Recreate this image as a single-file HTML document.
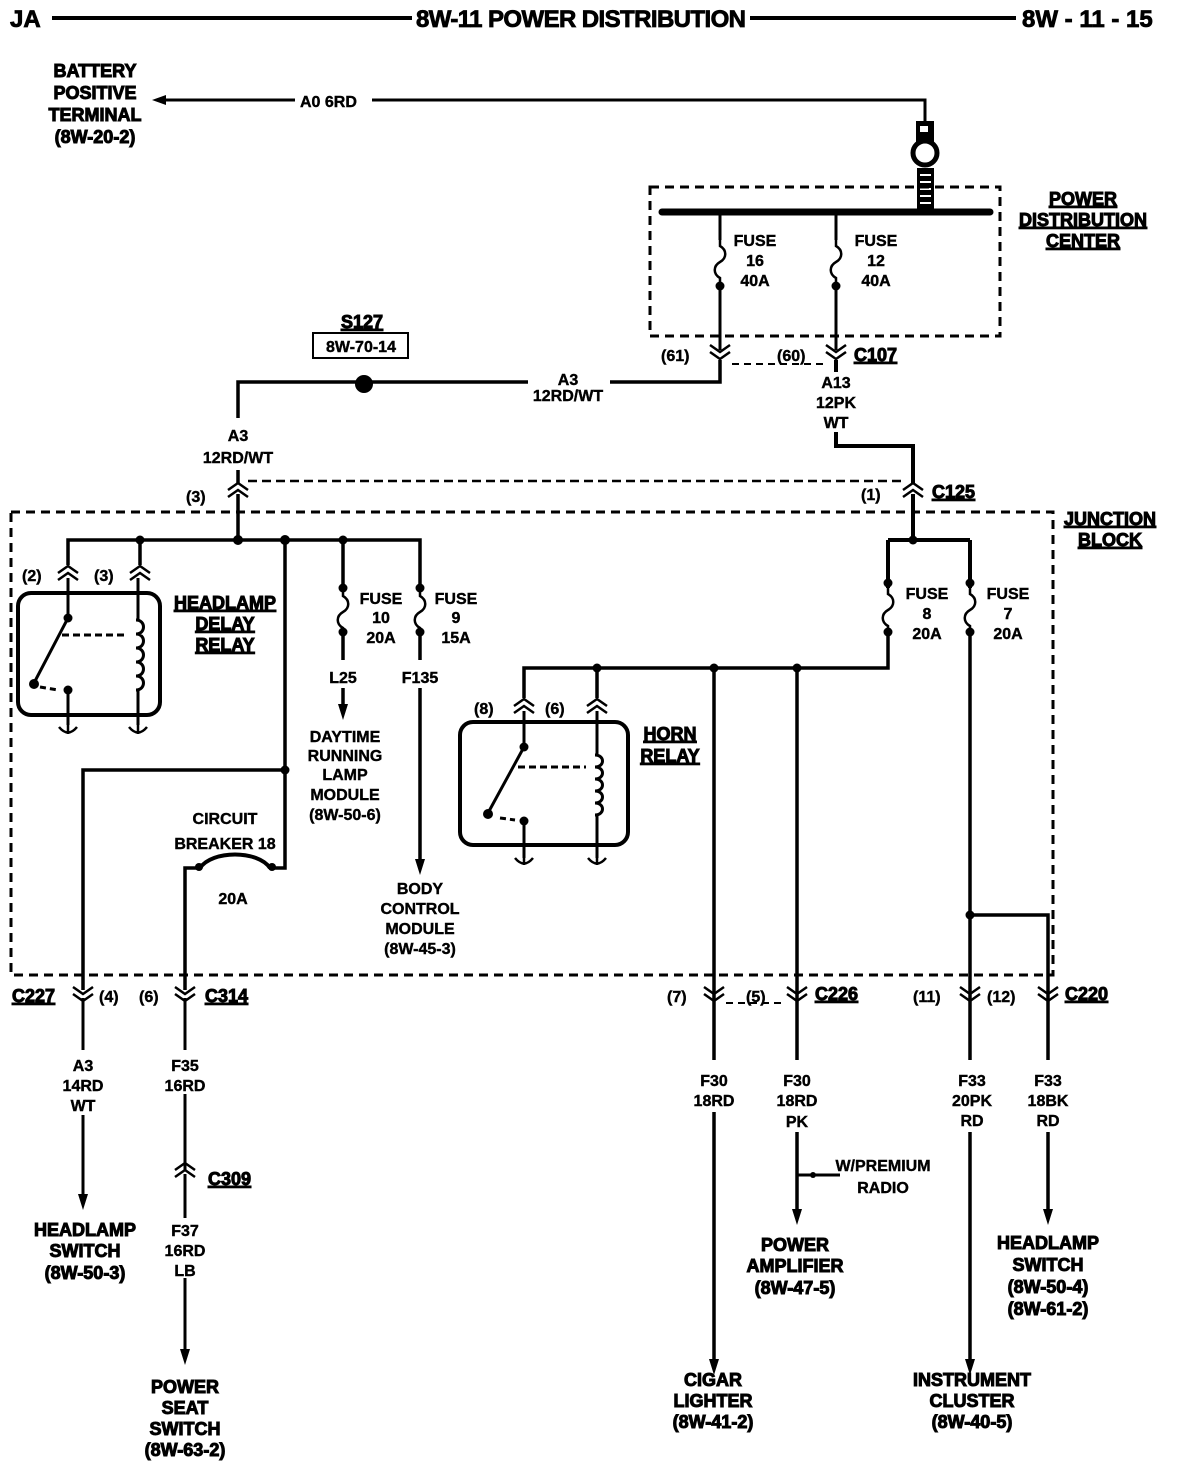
<!DOCTYPE html>
<html><head><meta charset="utf-8"><style>
html,body{margin:0;padding:0;background:#fff}
svg{display:block}
text{font-family:"Liberation Sans",sans-serif;font-weight:bold;fill:#000;stroke:#000}
.s{font-size:16px;stroke-width:0.4px}
.b{font-size:18px;stroke-width:1px}
.h{font-size:24px;stroke-width:0.8px}
.u{text-decoration:underline}
</style></head><body>
<svg width="1184" height="1464" viewBox="0 0 1184 1464" xmlns="http://www.w3.org/2000/svg">
<defs>
<g id="cd" fill="none" stroke="#000" stroke-width="2.5"><path d="M-10,-7 L0,0 L10,-7 M-10,0 L0,7 L10,0"/></g>
<g id="cu" fill="none" stroke="#000" stroke-width="2.5"><path d="M-10,7 L0,0 L10,7 M-10,0 L0,-7 L10,0"/></g>
<g id="gnd" fill="none" stroke="#000" stroke-width="2.5"><path d="M-9,-5 Q0,6 9,-5 M0,-14 L0,2"/></g>
<g id="arr"><path d="M-5,-16 L5,-16 L0,0 Z" fill="#000"/></g>
<g id="fuse" fill="none" stroke="#000" stroke-width="2.5"><path d="M0,0 L0,6 C7,10 7,18 0,22 C-7,26 -7,34 0,38 L0,44"/></g>
</defs>

<text x="10" y="27" class="h">JA</text>
<line x1="52" y1="18" x2="412" y2="18" stroke="#000" stroke-width="4"/>
<text x="416" y="27" class="h" textLength="330">8W-11  POWER DISTRIBUTION</text>
<line x1="750" y1="18" x2="1016" y2="18" stroke="#000" stroke-width="4"/>
<text x="1022" y="27" class="h">8W - 11 - 15</text>

<g stroke="#000" fill="none" stroke-width="3">
<path d="M160,100 L295,100 M372,100 L925,100 L925,121"/>
</g>
<path d="M152,100 L166,95 L166,105 Z" fill="#000"/>
<g text-anchor="middle">
<text x="95" y="77" class="b">BATTERY</text>
<text x="95" y="99" class="b">POSITIVE</text>
<text x="95" y="121" class="b">TERMINAL</text>
<text x="95" y="143" class="b">(8W-20-2)</text>
</g>
<text x="300" y="107" class="s">A0  6RD</text>

<rect x="916" y="121" width="18" height="22" fill="#000"/>
<rect x="920" y="126" width="8" height="6" fill="#fff"/>
<circle cx="925" cy="153" r="12" fill="none" stroke="#000" stroke-width="5"/>
<rect x="917" y="168" width="17" height="42" fill="#000"/>
<g stroke="#fff" stroke-width="2"><line x1="920" y1="175" x2="931" y2="175"/><line x1="920" y1="182" x2="931" y2="182"/><line x1="920" y1="189" x2="931" y2="189"/><line x1="920" y1="196" x2="931" y2="196"/><line x1="920" y1="203" x2="931" y2="203"/></g>

<rect x="650" y="187" width="350" height="149" fill="none" stroke="#000" stroke-width="3" stroke-dasharray="9,6"/>
<line x1="662" y1="212" x2="990" y2="212" stroke="#000" stroke-width="7" stroke-linecap="round"/>
<g text-anchor="middle">
<text x="1083" y="205" class="b u">POWER</text>
<text x="1083" y="226" class="b u">DISTRIBUTION</text>
<text x="1083" y="247" class="b u">CENTER</text>
</g>
<g stroke="#000" stroke-width="3" fill="none">
<line x1="720" y1="212" x2="720" y2="240"/>
<line x1="836" y1="212" x2="836" y2="240"/>
<line x1="720" y1="284" x2="720" y2="350"/>
<line x1="836" y1="284" x2="836" y2="350"/>
</g>
<use href="#fuse" x="720" y="240"/><use href="#fuse" x="836" y="240"/>
<circle cx="720" cy="286" r="4.5"/><circle cx="836" cy="286" r="4.5"/>
<g text-anchor="middle">
<text x="755" y="246" class="s">FUSE</text><text x="755" y="266" class="s">16</text><text x="755" y="286" class="s">40A</text>
<text x="876" y="246" class="s">FUSE</text><text x="876" y="266" class="s">12</text><text x="876" y="286" class="s">40A</text>
</g>
<use href="#cd" x="720" y="352"/><use href="#cd" x="836" y="352"/>
<line x1="732" y1="364" x2="824" y2="364" stroke="#000" stroke-width="2" stroke-dasharray="7,5"/>
<text x="661" y="361" class="s">(61)</text>
<text x="777" y="361" class="s">(60)</text>
<text x="854" y="361" class="b u">C107</text>

<g stroke="#000" stroke-width="3.5" fill="none">
<path d="M720,360 L720,382 L610,382 M528,382 L238,382 L238,418 M238,470 L238,484"/>
<path d="M836,360 L836,372 M836,432 L836,446 L913,446 L913,484" stroke-width="4"/>
</g>
<circle cx="364" cy="384" r="9"/>
<text x="362" y="328" class="b u" text-anchor="middle">S127</text>
<rect x="313" y="333" width="95" height="25" fill="none" stroke="#000" stroke-width="2"/>
<text x="361" y="352" class="s" text-anchor="middle">8W-70-14</text>
<g text-anchor="middle">
<text x="568" y="385" class="s">A3</text><text x="568" y="401" class="s">12RD/WT</text>
<text x="238" y="441" class="s">A3</text><text x="238" y="463" class="s">12RD/WT</text>
<text x="836" y="388" class="s">A13</text><text x="836" y="408" class="s">12PK</text><text x="836" y="428" class="s">WT</text>
</g>
<use href="#cu" x="238" y="490"/><use href="#cu" x="913" y="490"/>
<line x1="248" y1="481" x2="903" y2="481" stroke="#000" stroke-width="2.5" stroke-dasharray="9,5"/>
<text x="186" y="502" class="s">(3)</text>
<text x="861" y="500" class="s">(1)</text>
<text x="932" y="498" class="b u">C125</text>

<rect x="11" y="512" width="1042" height="463" fill="none" stroke="#000" stroke-width="3" stroke-dasharray="9,6"/>
<text x="1110" y="525" class="b u" text-anchor="middle">JUNCTION</text>
<text x="1110" y="546" class="b u" text-anchor="middle">BLOCK</text>

<g stroke="#000" stroke-width="3.5" fill="none">
<path d="M238,494 L238,540 M68,565 L68,540 L420,540 L420,588 M140,540 L140,565 M343,540 L343,588"/>
<path d="M343,632 L343,660 M343,688 L343,705 M420,632 L420,660 M420,688 L420,860"/>
<path d="M285,540 L285,868 L270,868 M200,868 L185,868 L185,990"/>
<path d="M270,868 C258,850 212,850 200,868" stroke-width="4"/>
<path d="M285,770 L83,770 L83,990"/>
<path d="M913,494 L913,540 M888,540 L970,540 M888,540 L888,588 M970,540 L970,588" stroke-width="4"/>
<path d="M888,632 L888,668 L524,668 L524,698 M597,668 L597,698"/>
<path d="M714,668 L714,1060 M714,1112 L714,1360 M797,668 L797,1060 M797,1132 L797,1210 M970,632 L970,1060 M970,1132 L970,1360 M970,915 L1048,915 L1048,1060 M1048,1132 L1048,1210"/>
</g>
<g>
<circle cx="140" cy="540" r="4.5"/><circle cx="238" cy="540" r="5"/><circle cx="285" cy="540" r="5"/><circle cx="343" cy="540" r="4.5"/><circle cx="285" cy="770" r="4.5"/>
<circle cx="913" cy="540" r="4.5"/><circle cx="597" cy="668" r="4.5"/><circle cx="714" cy="668" r="4.5"/><circle cx="797" cy="668" r="4.5"/><circle cx="970" cy="915" r="4.5"/>
<circle cx="343" cy="588" r="4.5"/><circle cx="343" cy="632" r="4.5"/><circle cx="420" cy="588" r="4.5"/><circle cx="420" cy="632" r="4.5"/>
<circle cx="888" cy="583" r="4.5"/><circle cx="888" cy="632" r="4.5"/><circle cx="970" cy="583" r="4.5"/><circle cx="970" cy="632" r="4.5"/>
<circle cx="272" cy="867" r="4"/><circle cx="199" cy="867" r="4"/>
</g>
<use href="#fuse" x="343" y="590"/>
<use href="#fuse" x="420" y="590"/>
<use href="#fuse" x="888" y="588"/>
<use href="#fuse" x="970" y="588"/>

<text x="225" y="824" class="s" text-anchor="middle">CIRCUIT</text>
<text x="225" y="849" class="s" text-anchor="middle">BREAKER 18</text>
<text x="233" y="904" class="s" text-anchor="middle">20A</text>

<g text-anchor="middle">
<text x="381" y="604" class="s">FUSE</text><text x="381" y="623" class="s">10</text><text x="381" y="643" class="s">20A</text>
<text x="456" y="604" class="s">FUSE</text><text x="456" y="623" class="s">9</text><text x="456" y="643" class="s">15A</text>
<text x="343" y="683" class="s">L25</text><text x="420" y="683" class="s">F135</text>
<text x="345" y="742" class="s">DAYTIME</text><text x="345" y="761" class="s">RUNNING</text><text x="345" y="780" class="s">LAMP</text><text x="345" y="800" class="s">MODULE</text><text x="345" y="820" class="s">(8W-50-6)</text>
<text x="420" y="894" class="s">BODY</text><text x="420" y="914" class="s">CONTROL</text><text x="420" y="934" class="s">MODULE</text><text x="420" y="954" class="s">(8W-45-3)</text>
<text x="927" y="599" class="s">FUSE</text><text x="927" y="619" class="s">8</text><text x="927" y="639" class="s">20A</text>
<text x="1008" y="599" class="s">FUSE</text><text x="1008" y="619" class="s">7</text><text x="1008" y="639" class="s">20A</text>
<text x="225" y="609" class="b u">HEADLAMP</text><text x="225" y="630" class="b u">DELAY</text><text x="225" y="651" class="b u">RELAY</text>
<text x="670" y="740" class="b u">HORN</text><text x="670" y="762" class="b u">RELAY</text>
</g>
<use href="#arr" x="343" y="720"/><use href="#arr" x="420" y="875"/>

<use href="#cu" x="68" y="573"/><use href="#cu" x="140" y="573"/>
<text x="22" y="581" class="s">(2)</text><text x="94" y="581" class="s">(3)</text>
<rect x="18" y="593" width="142" height="122" rx="13" fill="none" stroke="#000" stroke-width="4"/>
<g stroke="#000" stroke-width="3" fill="none">
<path d="M68,578 L68,618 L34,683"/>
<path d="M40,687 L58,690" stroke-dasharray="6,4"/>
<path d="M68,690 L68,725"/>
<path d="M62,635 L128,635" stroke-dasharray="7,4"/>
<path d="M138,578 L138,620 M138,690 L138,725"/>
<path d="M136,620 C146,620 146,634 136,634 C146,634 146,648 136,648 C146,648 146,662 136,662 C146,662 146,676 136,676 C146,676 146,690 136,690"/>
</g>
<circle cx="68" cy="618" r="4.5"/><circle cx="34" cy="684" r="5"/><circle cx="68" cy="690" r="4.5"/>
<use href="#gnd" x="68" y="732"/><use href="#gnd" x="138" y="732"/>

<use href="#cu" x="524" y="706"/><use href="#cu" x="597" y="706"/>
<text x="474" y="714" class="s">(8)</text><text x="545" y="714" class="s">(6)</text>
<rect x="460" y="722" width="168" height="123" rx="13" fill="none" stroke="#000" stroke-width="4"/>
<g stroke="#000" stroke-width="3" fill="none">
<path d="M524,711 L524,747 L488,813"/>
<path d="M500,818 L515,820" stroke-dasharray="6,4"/>
<path d="M524,820 L524,858"/>
<path d="M518,767 L586,767" stroke-dasharray="7,4"/>
<path d="M597,711 L597,755 M597,815 L597,858"/>
<path d="M595,755 C605,755 605,767 595,767 C605,767 605,779 595,779 C605,779 605,791 595,791 C605,791 605,803 595,803 C605,803 605,815 595,815"/>
</g>
<circle cx="524" cy="747" r="4.5"/><circle cx="488" cy="814" r="5"/><circle cx="524" cy="821" r="4.5"/>
<use href="#gnd" x="524" y="863"/><use href="#gnd" x="597" y="863"/>

<use href="#cd" x="83" y="994"/><use href="#cd" x="185" y="994"/>
<use href="#cd" x="714" y="994"/><use href="#cd" x="797" y="994"/>
<use href="#cd" x="970" y="994"/><use href="#cd" x="1048" y="994"/>
<line x1="726" y1="1003" x2="785" y2="1003" stroke="#000" stroke-width="2" stroke-dasharray="7,5"/>
<text x="12" y="1002" class="b u">C227</text>
<text x="99" y="1002" class="s">(4)</text>
<text x="139" y="1002" class="s">(6)</text>
<text x="205" y="1002" class="b u">C314</text>
<text x="667" y="1002" class="s">(7)</text>
<text x="746" y="1002" class="s">(5)</text>
<text x="815" y="1000" class="b u">C226</text>
<text x="913" y="1002" class="s">(11)</text>
<text x="987" y="1002" class="s">(12)</text>
<text x="1065" y="1000" class="b u">C220</text>

<g stroke="#000" stroke-width="3" fill="none">
<path d="M83,998 L83,1050 M83,1115 L83,1195"/>
<path d="M185,998 L185,1050 M185,1094 L185,1170 M185,1174 L185,1218 M185,1278 L185,1350"/>
<path d="M797,1175 L840,1175"/>
</g>
<use href="#cu" x="185" y="1170"/>
<text x="208" y="1185" class="b u">C309</text>
<use href="#arr" x="83" y="1210"/><use href="#arr" x="185" y="1365"/>
<use href="#arr" x="714" y="1375"/><use href="#arr" x="797" y="1225"/>
<use href="#arr" x="970" y="1375"/><use href="#arr" x="1048" y="1225"/>
<circle cx="813" cy="1175" r="3"/>

<g text-anchor="middle">
<text x="83" y="1071" class="s">A3</text><text x="83" y="1091" class="s">14RD</text><text x="83" y="1111" class="s">WT</text>
<text x="85" y="1236" class="b">HEADLAMP</text><text x="85" y="1257" class="b">SWITCH</text><text x="85" y="1279" class="b">(8W-50-3)</text>
<text x="185" y="1071" class="s">F35</text><text x="185" y="1091" class="s">16RD</text>
<text x="185" y="1236" class="s">F37</text><text x="185" y="1256" class="s">16RD</text><text x="185" y="1276" class="s">LB</text>
<text x="185" y="1393" class="b">POWER</text><text x="185" y="1414" class="b">SEAT</text><text x="185" y="1435" class="b">SWITCH</text><text x="185" y="1456" class="b">(8W-63-2)</text>
<text x="714" y="1086" class="s">F30</text><text x="714" y="1106" class="s">18RD</text>
<text x="713" y="1386" class="b">CIGAR</text><text x="713" y="1407" class="b">LIGHTER</text><text x="713" y="1428" class="b">(8W-41-2)</text>
<text x="797" y="1086" class="s">F30</text><text x="797" y="1106" class="s">18RD</text><text x="797" y="1127" class="s">PK</text>
<text x="883" y="1171" class="s">W/PREMIUM</text><text x="883" y="1193" class="s">RADIO</text>
<text x="795" y="1251" class="b">POWER</text><text x="795" y="1272" class="b">AMPLIFIER</text><text x="795" y="1294" class="b">(8W-47-5)</text>
<text x="972" y="1086" class="s">F33</text><text x="972" y="1106" class="s">20PK</text><text x="972" y="1126" class="s">RD</text>
<text x="972" y="1386" class="b">INSTRUMENT</text><text x="972" y="1407" class="b">CLUSTER</text><text x="972" y="1428" class="b">(8W-40-5)</text>
<text x="1048" y="1086" class="s">F33</text><text x="1048" y="1106" class="s">18BK</text><text x="1048" y="1126" class="s">RD</text>
<text x="1048" y="1249" class="b">HEADLAMP</text><text x="1048" y="1271" class="b">SWITCH</text><text x="1048" y="1293" class="b">(8W-50-4)</text><text x="1048" y="1315" class="b">(8W-61-2)</text>
</g>
</svg>
</body></html>
